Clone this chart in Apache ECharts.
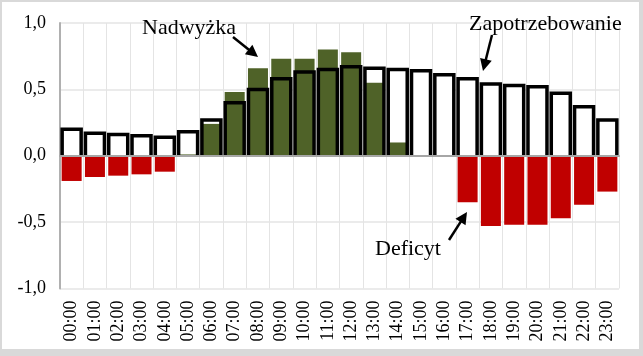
<!DOCTYPE html>
<html>
<head>
<meta charset="utf-8">
<script src="https://cdn.jsdelivr.net/npm/echarts@6/dist/echarts.min.js"></script>
<style>
html,body{margin:0;padding:0;background:#d9d9d9;}
#c{width:643px;height:356px;}
</style>
</head>
<body>
<div id="c"></div>
<script>
const categories = ['00:00','01:00','02:00','03:00','04:00','05:00','06:00','07:00','08:00','09:00','10:00','11:00',
  '12:00','13:00','14:00','15:00','16:00','17:00','18:00','19:00','20:00','21:00','22:00','23:00'];
const demand  = [0.20,0.17,0.16,0.15,0.14,0.18,0.27,0.40,0.50,0.58,0.63,0.65,0.67,0.66,0.65,0.64,0.61,0.58,0.54,0.53,0.52,0.47,0.37,0.27];
const surplus = [0,0,0,0,0,0.01,0.24,0.48,0.66,0.73,0.73,0.80,0.78,0.55,0.10,0,0,0,0,0,0,0,0,0];
const deficit = [-0.19,-0.16,-0.15,-0.14,-0.12,0,0,0,0,0,0,0,0,0,0,0,0,-0.35,-0.53,-0.52,-0.52,-0.47,-0.37,-0.27];
const yTicks = [-1.0,-0.5,0,0.5,1.0];

const FONT = '"Liberation Serif","Times New Roman",serif';

function arrow(x1,y1,x2,y2){
  const dx=x2-x1, dy=y2-y1, L=Math.hypot(dx,dy), ux=dx/L, uy=dy/L;
  const hl=12, hw=6;
  const bx=x2-ux*hl, by=y2-uy*hl;
  return [
    {type:'line', shape:{x1:x1,y1:y1,x2:bx+ux*2,y2:by+uy*2}, style:{stroke:'#000',lineWidth:2.5}, z:20},
    {type:'polygon', shape:{points:[[x2,y2],[bx-uy*hw,by+ux*hw],[bx+uy*hw,by-ux*hw]]}, style:{fill:'#000'}, z:20}
  ];
}

const chart = echarts.init(document.getElementById('c'));
chart.setOption({
  animation:false,
  backgroundColor:'transparent',
  grid:{left:60,right:24,top:23,bottom:67.5},
  xAxis:[{
    type:'category', data:categories, position:'bottom',
    axisLine:{show:false,onZero:false}, axisTick:{show:false},
    axisLabel:{rotate:90,fontFamily:FONT,fontSize:18,color:'#000',margin:12,interval:0},
    splitLine:{show:true,interval:0,lineStyle:{color:'#e4e4e4',width:1}}
  },{
    type:'category', data:categories, z:5,
    axisLine:{show:true,onZero:true,lineStyle:{color:'#a6a6a6',width:2}},
    axisTick:{show:false}, axisLabel:{show:false}, splitLine:{show:false}
  }],
  yAxis:{
    type:'value', min:-1, max:1, interval:0.5,
    axisLine:{show:true,lineStyle:{color:'#b0b0b0',width:2}}, axisTick:{show:false},
    axisLabel:{fontFamily:FONT,fontSize:18,color:'#000',margin:14,padding:[4,0,0,0],
      formatter:v=>{const t=yTicks.find(k=>Math.abs(k-v)<1e-9); return (t===undefined?v:t).toFixed(1).replace('.',',');}},
    splitLine:{lineStyle:{color:'#e4e4e4',width:1.5}}
  },
  graphic:[
    {type:'rect', shape:{x:2,y:2,width:637,height:347}, style:{fill:'#fff'}, z:-10, silent:true},
    {type:'text', x:142, y:17, style:{text:'Nadwyżka', font:'22px '+FONT, fill:'#000'}, z:20},
    {type:'text', x:469, y:13, style:{text:'Zapotrzebowanie', font:'22px '+FONT, fill:'#000'}, z:20},
    {type:'text', x:375, y:238, style:{text:'Deficyt', font:'22px '+FONT, fill:'#000'}, z:20},
    ...arrow(233,37,258,57),
    ...arrow(492,35,483,71),
    ...arrow(449,240,467,212)
  ],
  series:[
    {name:'demandFill', type:'bar', data:demand, barWidth:20, barGap:'-100%', itemStyle:{color:'#fff'}},
    {name:'Nadwyżka', type:'bar', data:surplus, barWidth:20, barGap:'-100%', itemStyle:{color:'#4f6228'}},
    {name:'Deficyt', type:'bar', data:deficit, barWidth:20, barGap:'-100%', itemStyle:{color:'#c00000'}},
    {name:'Zapotrzebowanie', type:'custom', z:4,
      data:demand.map((v,i)=>[i,v]),
      renderItem:function(params,api){
        const i=api.value(0), v=api.value(1);
        const top=api.coord([i,v]), base=api.coord([i,0]);
        const w=19;
        return {type:'polyline',
          shape:{points:[[top[0]-w/2,base[1]],[top[0]-w/2,top[1]],[top[0]+w/2,top[1]],[top[0]+w/2,base[1]]]},
          style:{stroke:'#000',lineWidth:3.5,fill:null,lineJoin:'miter'}};
      }
    }
  ]
});
</script>
</body>
</html>
